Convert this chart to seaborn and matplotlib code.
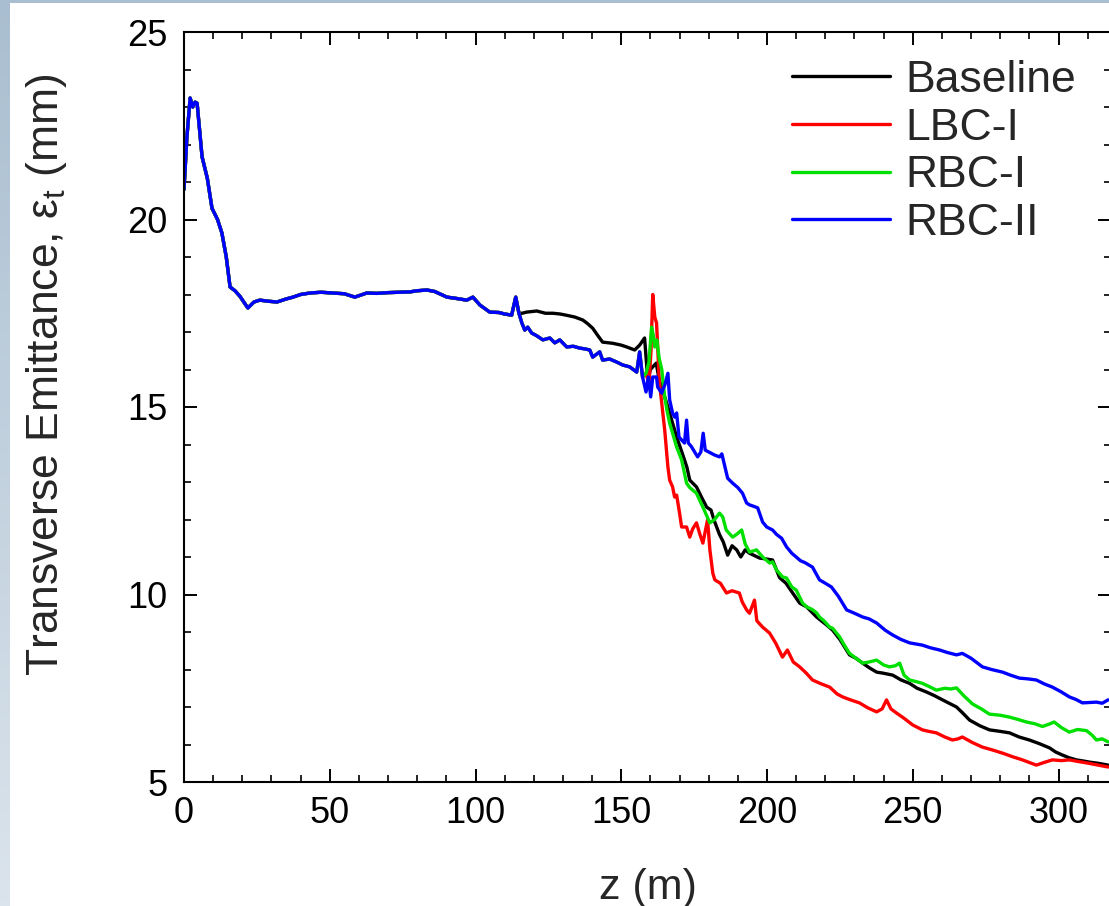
import numpy as np
import pandas as pd
import matplotlib
matplotlib.use("Agg")
import matplotlib.pyplot as plt
from matplotlib.ticker import MultipleLocator
from matplotlib.colors import LinearSegmentedColormap
from matplotlib.patches import Rectangle
import seaborn as sns

# ---------------- data ----------------
# shared part of all four runs (z in m, emittance in mm)
common_z = [0, 1, 2.1, 3.0, 3.8, 4.5, 6.2, 8, 9.6, 11.5, 13.0, 14.5, 15.8, 17.5, 19.2,
            21.9, 24, 26, 29, 31.9, 35, 37.4, 40, 43.2, 47, 51, 55, 58.6, 62.7, 66,
            70, 74, 77.5, 80, 83.3, 86, 90.2, 93, 97, 99.1, 101.5, 104.9, 108, 110,
            112.4, 113.8, 114.9]
common_eps = [20.8, 22.2, 23.24, 23.0, 23.13, 23.1, 21.67, 21.1, 20.3, 20.0, 19.64, 19.0,
              18.2, 18.1, 17.95, 17.64, 17.8, 17.85, 17.82, 17.8, 17.88, 17.93, 18.0,
              18.04, 18.06, 18.04, 18.02, 17.93, 18.04, 18.03, 18.05, 18.06, 18.07,
              18.1, 18.12, 18.08, 17.93, 17.9, 17.85, 17.93, 17.72, 17.53, 17.52,
              17.48, 17.45, 17.93, 17.5]

# shared part of LBC-I, RBC-I, RBC-II after Baseline separates
split_z = [115.9, 116.9, 117.9, 119.3, 121, 123.1, 125.5, 127.2, 128.9, 131.3, 133.5,
           135.8, 137.5, 139.2, 140.2, 142.6, 143.6, 146, 148.4, 150.5, 152.9, 155.3,
           156.3, 157.3]
split_eps = [17.24, 17.05, 17.13, 16.97, 16.9, 16.79, 16.84, 16.71, 16.79, 16.6, 16.62,
             16.57, 16.55, 16.52, 16.33, 16.47, 16.25, 16.28, 16.2, 16.12, 16.07, 15.93,
             16.47, 15.8]

baseline_z = [116, 117.5, 121, 124, 126.6, 129, 131, 134, 136.8, 138.5, 140.2, 142, 143.6,
              147, 150, 151.9, 154.6, 156.3, 158, 159.1, 160, 160.8, 162, 163, 165.6,
              167.5, 169, 171, 172.5, 173.5, 175.8, 177.5, 179.3, 180.8, 181.8, 183.7,
              185, 186.5, 188, 189.6, 191, 192.5, 194, 197.5, 199.5, 201.9, 204.3, 206.5,
              208.8, 211.2, 213.6, 217, 220.4, 222.5, 225, 228.3, 230.5, 232.8, 235,
              237.6, 240, 243.1, 246, 248.9, 251.5, 254.7, 257.5, 260.2, 262.5, 265, 267,
              269.5, 273, 276.3, 280, 283.2, 286.5, 290, 293.5, 296.9, 299, 301.3, 303.5,
              306.1, 308.5, 310.6, 313.5, 317]
baseline_eps = [17.5, 17.53, 17.56, 17.5, 17.5, 17.48, 17.45, 17.4, 17.32, 17.22, 17.1,
                16.9, 16.73, 16.7, 16.65, 16.6, 16.52, 16.65, 16.84, 15.72, 16.0, 16.07,
                16.17, 15.72, 15.1, 14.6, 14.2, 13.75, 13.4, 13.05, 12.87, 12.6, 12.33,
                12.25, 11.99, 11.6, 11.4, 11.05, 11.3, 11.19, 11.0, 11.19, 11.1, 10.97,
                10.95, 10.92, 10.45, 10.3, 10.04, 9.77, 9.67, 9.4, 9.19, 9.05, 8.8, 8.39,
                8.3, 8.17, 8.05, 7.93, 7.9, 7.85, 7.72, 7.63, 7.5, 7.4, 7.3, 7.19, 7.1,
                7.0, 6.85, 6.65, 6.5, 6.39, 6.35, 6.31, 6.2, 6.12, 6.02, 5.91, 5.8, 5.72,
                5.65, 5.59, 5.56, 5.53, 5.5, 5.45]

lbc1_z = [158.5, 159.5, 160.2, 160.8, 161.5, 162.1, 162.5, 163, 163.9, 164.9, 166, 166.6,
          167.6, 168.3, 169, 170, 170.7, 172.4, 173.5, 174.5, 175.8, 177, 178, 179.6,
          180.4, 181.4, 182.1, 184, 186.1, 188, 190.5, 191.5, 193, 194, 195.7, 196.5,
          198.5, 200.9, 203, 205.3, 207, 209, 211.2, 213.5, 215.6, 218.5, 221.5, 224,
          225.9, 229, 231.7, 234.5, 237.6, 239.5, 241, 242.5, 244.4, 247, 250, 253.3,
          255.5, 258.1, 261, 263.6, 265.5, 267, 270.5, 273.9, 277.5, 280.8, 284, 287.6,
          290, 292.4, 295, 297.9, 301, 303.7, 306.5, 309.6, 313, 317]
lbc1_eps = [15.9, 15.6, 16.5, 18.0, 17.4, 17.24, 16.6, 15.72, 15.1, 14.39, 13.4, 13.05,
            12.87, 12.6, 12.65, 12.17, 11.8, 11.8, 11.53, 11.75, 11.91, 11.6, 11.37, 11.99,
            11.19, 10.57, 10.39, 10.3, 10.04, 10.1, 10.04, 9.8, 9.59, 9.5, 9.85, 9.3,
            9.13, 8.97, 8.7, 8.33, 8.52, 8.2, 8.07, 7.9, 7.72, 7.62, 7.53, 7.35, 7.27,
            7.18, 7.11, 6.98, 6.87, 6.95, 7.19, 6.95, 6.84, 6.7, 6.52, 6.39, 6.35, 6.31,
            6.2, 6.12, 6.15, 6.2, 6.05, 5.93, 5.85, 5.77, 5.68, 5.59, 5.52, 5.45, 5.52,
            5.59, 5.57, 5.59, 5.55, 5.51, 5.46, 5.40]

rbc1_z = [158.5, 159.5, 160.4, 161, 161.5, 162.2, 163, 163.9, 164.9, 165.7, 166.6, 168,
          169, 170.7, 171.5, 172.4, 173.5, 175.8, 177, 178, 179.3, 180.4, 182, 183.7,
          184.8, 186, 188.2, 189.5, 191.3, 192.5, 194, 196.4, 198.5, 200.9, 201.9, 203.3,
          205.3, 206.7, 208.5, 210, 212.2, 213.6, 215.5, 217, 218, 219.5, 221.5, 222.5,
          224.9, 226.5, 228.3, 230.5, 232.8, 235, 237.6, 240, 242, 244, 245.5, 247,
          248.9, 251, 253.3, 255.5, 258.1, 261, 263, 265, 267.5, 270.5, 273.5, 276.3,
          280, 283.2, 286, 289, 292, 294.5, 297, 298.5, 301, 303.7, 306.5, 309.6, 311.5,
          313, 315, 317]
rbc1_eps = [15.9, 16.2, 17.13, 16.9, 16.6, 16.79, 16.3, 16.0, 15.27, 14.9, 14.57, 14.2,
            13.93, 13.59, 13.3, 12.97, 12.85, 12.7, 12.5, 12.33, 12.1, 11.91, 12.0, 12.17,
            12.07, 11.72, 11.53, 11.6, 11.72, 11.35, 11.13, 11.19, 11.0, 10.84, 10.87,
            10.65, 10.47, 10.44, 10.2, 10.12, 9.77, 9.67, 9.6, 9.51, 9.4, 9.3, 9.13, 9.1,
            8.87, 8.65, 8.43, 8.3, 8.17, 8.2, 8.25, 8.12, 8.07, 8.1, 8.17, 7.85, 7.72,
            7.68, 7.63, 7.55, 7.45, 7.5, 7.48, 7.51, 7.3, 7.08, 6.95, 6.81, 6.78, 6.73,
            6.67, 6.6, 6.55, 6.48, 6.55, 6.6, 6.45, 6.33, 6.4, 6.37, 6.25, 6.12, 6.15, 6.07]

rbc2_z = [158.5, 159.3, 160.1, 160.8, 162.1, 162.5, 163.9, 164.2, 165, 166, 166.6, 167.6,
          168.3, 169, 169.8, 170.7, 171.7, 172.4, 173, 174, 176.2, 177.3, 178.1, 178.8,
          180, 182, 183.7, 184.5, 186.5, 188.2, 190, 191.6, 193, 194, 195.5, 196.8,
          198.5, 199.9, 201.9, 203.3, 205, 206.7, 208.5, 210, 211.5, 213, 215.6, 218,
          220, 222.1, 224.5, 227.3, 230, 232.8, 235, 237.6, 240.5, 243.1, 246, 248.9,
          251, 253.3, 256, 259.2, 262, 265, 267, 270, 273.9, 277, 280.8, 283.5, 286.6,
          289.5, 292.4, 295, 297.9, 301, 303.7, 306, 308.2, 310.5, 313, 315, 317]
rbc2_eps = [15.4, 15.8, 15.27, 15.8, 15.8, 15.53, 15.37, 15.45, 15.6, 15.9, 15.19, 14.84,
            14.73, 14.84, 14.2, 14.12, 14.04, 14.65, 14.04, 13.95, 13.67, 13.8, 14.3,
            13.85, 13.8, 13.72, 13.67, 13.75, 13.1, 12.97, 12.85, 12.7, 12.44, 12.39,
            12.35, 12.31, 11.93, 11.8, 11.72, 11.6, 11.5, 11.27, 11.1, 11.0, 10.9, 10.85,
            10.73, 10.39, 10.3, 10.2, 9.95, 9.59, 9.5, 9.4, 9.35, 9.24, 9.05, 8.92, 8.8,
            8.71, 8.68, 8.65, 8.58, 8.52, 8.45, 8.39, 8.43, 8.3, 8.07, 8.0, 7.93, 7.85,
            7.77, 7.75, 7.72, 7.62, 7.53, 7.4, 7.27, 7.2, 7.11, 7.12, 7.13, 7.1, 7.19]

labels = ["Baseline", "LBC-I", "RBC-I", "RBC-II"]
colors = ["#000000", "#ff0000", "#00e000", "#0000ff"]

x_major_ticks = [0, 50, 100, 150, 200, 250, 300]
y_major_ticks = [5, 10, 15, 20, 25]

# ---------------- assemble series ----------------
series = {
    "Baseline": (common_z + baseline_z, common_eps + baseline_eps),
    "LBC-I": (common_z + split_z + lbc1_z, common_eps + split_eps + lbc1_eps),
    "RBC-I": (common_z + split_z + rbc1_z, common_eps + split_eps + rbc1_eps),
    "RBC-II": (common_z + split_z + rbc2_z, common_eps + split_eps + rbc2_eps),
}
frames = []
for name in labels:
    z, e = series[name]
    frames.append(pd.DataFrame({"z": z, "eps": e, "run": name}))
df = pd.concat(frames, ignore_index=True)

# ---------------- figure ----------------
sns.set_theme(style="ticks")
plt.rcParams["font.family"] = ["Liberation Sans", "DejaVu Sans"]
plt.rcParams["mathtext.fontset"] = "custom"
plt.rcParams["mathtext.rm"] = "Liberation Sans"

W, H = 1109, 906
fig = plt.figure(figsize=(W / 100, H / 100), dpi=100)

# slide-like background: bluish strip at left and top
bg = fig.add_axes([0, 0, 1, 1], zorder=-10)
cmap = LinearSegmentedColormap.from_list("bgc", ["#a9bed0", "#dbe4ec"])
bg.imshow(np.linspace(0, 1, 256).reshape(-1, 1), aspect="auto", cmap=cmap,
          extent=[0, 1, 0, 1], origin="upper")
bg.add_patch(Rectangle((10 / W, 0), 1, 1 - 3 / H, transform=bg.transAxes,
                       facecolor="white", edgecolor="none"))
bg.set_xlim(0, 1)
bg.set_ylim(0, 1)
bg.axis("off")

x0, x1 = 184, 1111
y0, y1 = 32, 782
ax = fig.add_axes([x0 / W, 1 - y1 / H, (x1 - x0) / W, (y1 - y0) / H])
ax.set_facecolor("none")

sns.lineplot(data=df, x="z", y="eps", hue="run", hue_order=labels,
             palette=dict(zip(labels, colors)), sort=False, estimator=None,
             linewidth=2.4, ax=ax)

ax.set_xlim(0, 318)
ax.set_ylim(5, 25)
ax.set_xticks(x_major_ticks)
ax.set_yticks(y_major_ticks)
ax.xaxis.set_minor_locator(MultipleLocator(10))
ax.yaxis.set_minor_locator(MultipleLocator(1))
ax.tick_params(which="both", direction="in", top=True, right=True,
               colors="black", labelsize=26)
ax.tick_params(which="major", length=9.5, width=1.4)
ax.tick_params(which="minor", length=5, width=1.2)
ax.tick_params(axis="x", which="major", pad=10)
ax.tick_params(axis="y", which="major", pad=12)
for s in ax.spines.values():
    s.set_visible(True)
    s.set_linewidth(1.5)
    s.set_color("black")

ax.set_xlabel("z (m)", fontsize=31)
ax.xaxis.set_label_coords(0.5, (y1 - 888) / (y1 - y0))
ax.xaxis.label.set_va("center")
ax.set_ylabel(r"Transverse Emittance, ε$_\mathregular{t}$ (mm)", fontsize=32)
ax.yaxis.set_label_coords((47 - x0) / (x1 - x0), (y1 - 375) / (y1 - y0))
ax.yaxis.label.set_va("center")

leg = ax.legend(loc="upper left", bbox_to_anchor=((792 - x0) / (x1 - x0), (y1 - 60) / (y1 - y0)),
                frameon=False, fontsize=32, handlelength=2.2, handletextpad=0.34,
                labelspacing=0.15, borderaxespad=0, borderpad=0)
for line in leg.get_lines():
    line.set_linewidth(2.4)

fig.savefig("out.png", dpi=100)
